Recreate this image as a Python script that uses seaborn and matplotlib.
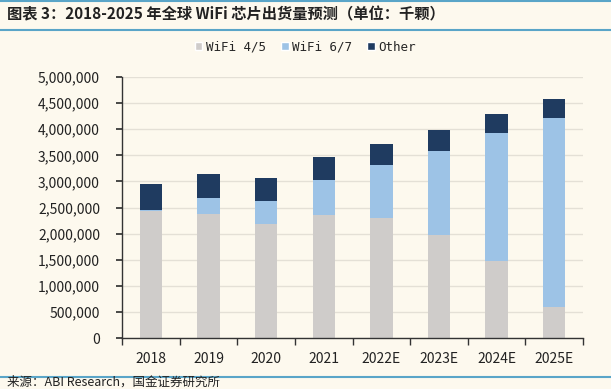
import matplotlib
matplotlib.use("Agg")
import matplotlib.pyplot as plt
import seaborn as sns
import numpy as np
import pandas as pd
from matplotlib.lines import Line2D
from matplotlib.patches import Patch

years = ["2018", "2019", "2020", "2021", "2022E", "2023E", "2024E", "2025E"]
wifi45 = [2430000, 2380000, 2180000, 2360000, 2300000, 1980000, 1470000, 600000]
wifi67 = [20000, 300000, 440000, 660000, 1010000, 1610000, 2450000, 3620000]
other = [500000, 470000, 450000, 450000, 400000, 400000, 370000, 350000]

c45 = "#CFCCCA"
c67 = "#9DC3E6"
cot = "#1F3B60"
bg = "#FDF9EE"
line_c = "#5AA5C8"

sns.set_theme(style="white")
plt.rcParams['font.family'] = ['Noto Sans CJK SC', 'DejaVu Sans']

df = pd.DataFrame({"year": years, "w45": wifi45, "w67": wifi67, "ot": other})
df["s2"] = df["w45"] + df["w67"]
df["s3"] = df["s2"] + df["ot"]

fig = plt.figure(figsize=(6.11, 3.89), dpi=100)
fig.patch.set_facecolor(bg)
ax = fig.add_axes([0.2, 0.131, 0.754, 0.671])
ax.set_facecolor(bg)

for col, colr in [("s3", cot), ("s2", c67), ("w45", c45)]:
    sns.barplot(data=df, x="year", y=col, color=colr, width=0.39, saturation=1,
                linewidth=0, edgecolor="none", ax=ax)

ax.set_ylim(0, 5000000)
ax.set_xlim(-0.5, len(years) - 0.5)
yt = np.arange(0, 5000001, 500000)
ax.set_yticks(yt)
ax.set_yticklabels([f"{v:,}" for v in yt], fontsize=10, color="#222222")
ax.set_xticks(range(len(years)))
ax.set_xticklabels(years, fontsize=10, color="#222222")
ax.set_xlabel("")
ax.set_ylabel("")
ax.yaxis.grid(True, color="#E4E0D6", linewidth=1)
ax.set_axisbelow(True)
for s in ["top", "right"]:
    ax.spines[s].set_visible(False)
for s in ["left", "bottom"]:
    ax.spines[s].set_color("#333333")
    ax.spines[s].set_linewidth(1)
ax.tick_params(axis="y", which="both", left=True, length=4, color="#333333", pad=12)
ax.tick_params(axis="x", which="major", bottom=False, pad=4)
ax.set_xticks(np.arange(-0.5, len(years), 1), minor=True)
ax.tick_params(axis="x", which="minor", bottom=True, length=5, color="#333333")

handles = [Patch(facecolor=c45, label="WiFi 4/5"),
           Patch(facecolor=c67, label="WiFi 6/7"),
           Patch(facecolor=cot, label="Other")]
fig.legend(handles=handles, loc="center", bbox_to_anchor=(0.5, 0.879), ncol=3,
           frameon=False, handlelength=0.6, handleheight=0.6,
           handletextpad=0.3, columnspacing=1.2,
           prop={'family': ['DejaVu Sans Mono'], 'size': 9})

fig.add_artist(Line2D([0, 1], [0.997, 0.997], color=line_c, linewidth=1.5, transform=fig.transFigure))
fig.add_artist(Line2D([0, 1], [0.923, 0.923], color=line_c, linewidth=1.5, transform=fig.transFigure))
fig.add_artist(Line2D([0, 1], [0.03, 0.03], color=line_c, linewidth=1.5, transform=fig.transFigure))

fig.text(0.012, 0.962, "图表 3：2018-2025 年全球 WiFi 芯片出货量预测（单位：千颗）",
         fontsize=11, fontweight="bold", color="#222222", va="center", ha="left")
fig.text(0.012, 0.0, "来源：ABI Research，国金证券研究所", fontsize=9, color="#222222",
         va="bottom", ha="left")

fig.savefig("out.png", dpi=100, facecolor=bg)
